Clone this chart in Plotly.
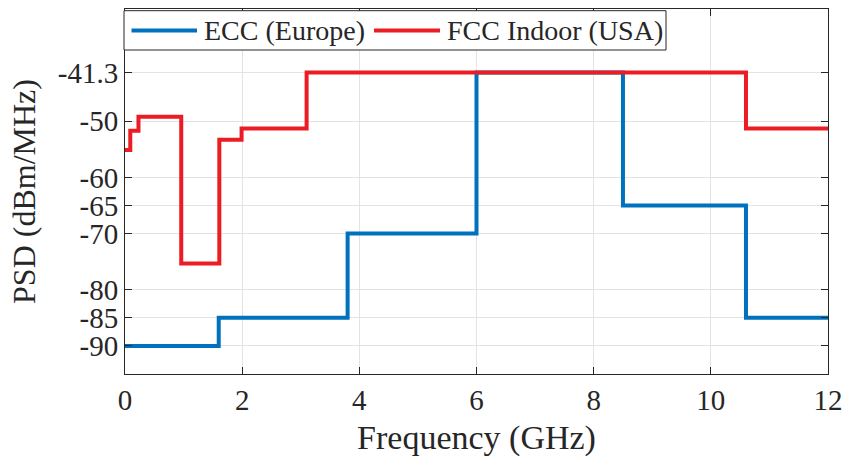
import plotly.graph_objects as go

# UWB spectral emission masks (PSD limit in dBm/MHz vs frequency in GHz)
ecc_freq = [0, 1.6, 3.8, 6.0, 8.5, 10.6, 12]
ecc_psd = [-90, -85, -70, -41.3, -65, -85, -85]

fcc_freq = [0, 0.09, 0.23, 0.96, 1.61, 1.99, 3.1, 10.6, 12]
fcc_psd = [-55.1, -51.7, -49.2, -75.3, -53.3, -51.3, -41.3, -51.3, -51.3]

x_ticks = [0, 2, 4, 6, 8, 10, 12]
y_ticks = [-90, -85, -80, -70, -65, -60, -50, -41.3]
y_tick_text = ["-90", "-85", "-80", "-70", "-65", "-60", "-50", "-41.3"]

series_names = ["ECC (Europe)", "FCC Indoor (USA)"]
series_colors = ["#0072BD", "#EC1C24"]

W, H = 845, 461
L, R, T, B = 125, 17, 9, 87
FONT = "Liberation Serif"
INK = "#262626"

fig = go.Figure()
fig.add_trace(go.Scatter(x=ecc_freq, y=ecc_psd, mode="lines", name=series_names[0],
                         line=dict(color=series_colors[0], width=4, shape="hv"),
                         showlegend=False))
fig.add_trace(go.Scatter(x=fcc_freq, y=fcc_psd, mode="lines", name=series_names[1],
                         line=dict(color=series_colors[1], width=4, shape="hv"),
                         showlegend=False))

axis_common = dict(
    showline=True, linecolor=INK, linewidth=1, mirror="ticks",
    ticks="inside", ticklen=7, tickcolor=INK, tickwidth=1,
    showgrid=True, gridcolor="#E3E3E3", gridwidth=1, zeroline=False,
    tickfont=dict(family=FONT, size=29, color=INK),
)

fig.update_xaxes(range=[0, 12], tickvals=x_ticks, ticktext=[str(v) for v in x_ticks],
                 title=dict(text="Frequency (GHz)", font=dict(family=FONT, size=34, color=INK),
                            standoff=10),
                 **axis_common)
fig.update_yaxes(range=[-95, -30], tickvals=y_ticks, ticktext=y_tick_text,
                 title=dict(text="PSD (dBm/MHz)", font=dict(family=FONT, size=32, color=INK),
                            standoff=12),
                 **axis_common)


# Legend box drawn in pixel space, converted to paper coordinates
def px(xp):
    return (xp - L) / (W - L - R)


def py(yp):
    return (H - B - yp) / (H - T - B)


shapes = [dict(type="rect", xref="paper", yref="paper",
               x0=px(124), x1=px(666), y0=py(50), y1=py(10.7),
               fillcolor="white", line=dict(color=INK, width=1), layer="above")]
annotations = []
entries = [(131.5, 197, 202), (374, 440, 445)]
for (s0, s1, tx), name, color in zip(entries, series_names, series_colors):
    shapes.append(dict(type="line", xref="paper", yref="paper",
                       x0=px(s0), x1=px(s1), y0=py(30.5), y1=py(30.5),
                       line=dict(color=color, width=4), layer="above"))
    annotations.append(dict(text=name, xref="paper", yref="paper",
                            x=px(tx), y=py(31), xanchor="left", yanchor="middle",
                            showarrow=False,
                            font=dict(family=FONT, size=28, color=INK)))

fig.update_layout(
    width=W, height=H,
    margin=dict(l=L, r=R, t=T, b=B, autoexpand=False),
    paper_bgcolor="white", plot_bgcolor="white",
    font=dict(family=FONT, color=INK),
    shapes=shapes, annotations=annotations,
    showlegend=False,
)

fig.write_html("out.html")
